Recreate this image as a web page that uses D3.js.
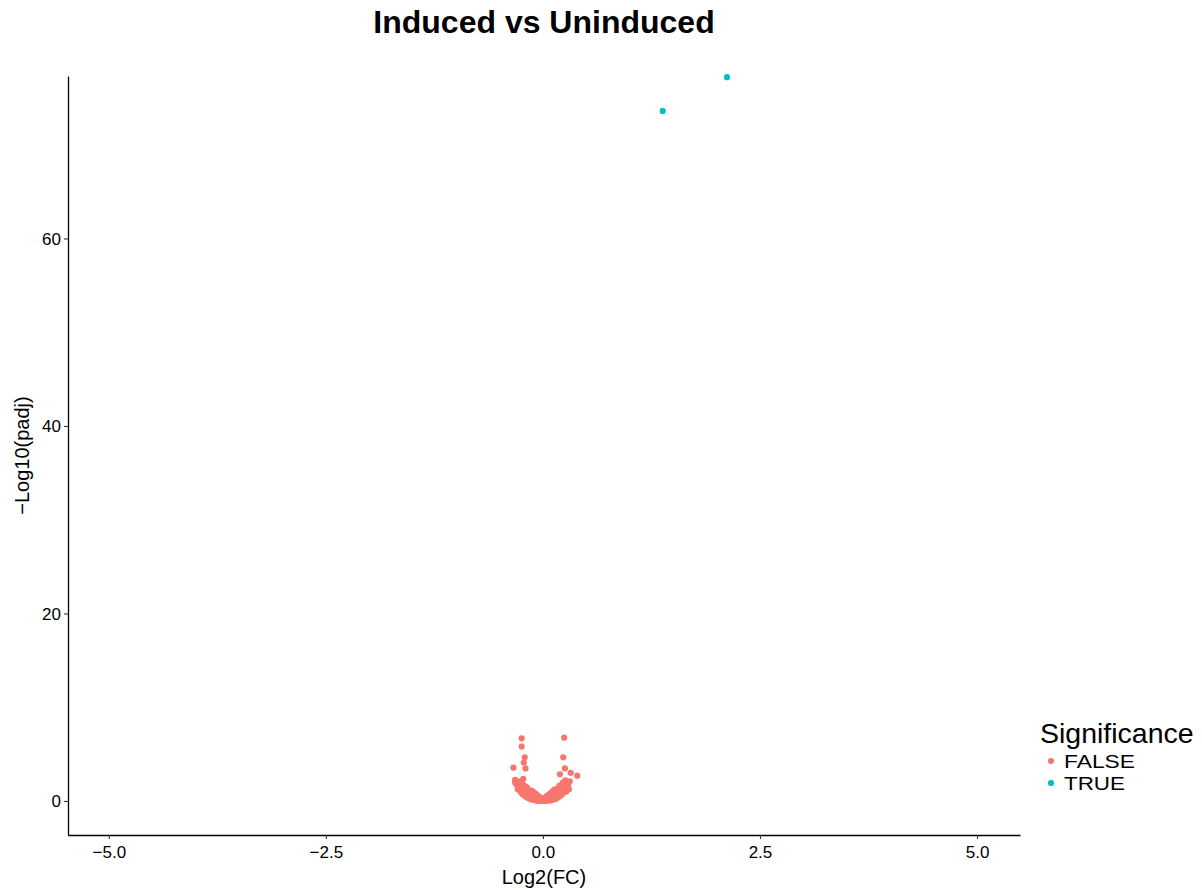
<!DOCTYPE html>
<html><head><meta charset="utf-8">
<script src="https://cdn.jsdelivr.net/npm/d3@7"></script>
<style>body{margin:0;background:#fff;} svg{display:block;font-family:"Liberation Sans",Arial,Helvetica,sans-serif;}</style>
</head><body>
<svg id="c" width="1202" height="890"></svg>
<script>
const title = "Induced vs Uninduced";
const xLabel = "Log2(FC)";
const yLabel = "\u2212Log10(padj)";
const xTicks = [-5, -2.5, 0, 2.5, 5];
const yTicks = [0, 20, 40, 60];
const legendTitle = "Significance";
const groups = ["FALSE", "TRUE"];
const colors = ["#F8766D", "#00BFC4"];
// significant genes [log2FC, -log10 padj]
const trueX = [1.38, 2.12];
const trueY = [73.6, 77.2];
// non-significant genes
const falseX = [-0.245, 0.245, -0.245, -0.21, 0.234, -0.22, -0.34, -0.20, 0.253, 0.32, 0.395, 0.196, -0.32, -0.227,
  -0.32, -0.30, -0.28, -0.26, -0.24, -0.27, -0.25, -0.22, -0.20, -0.22, -0.19, -0.17, -0.15, -0.13, -0.11, -0.09, -0.07, -0.05, -0.03, -0.01,
  -0.29, -0.26, -0.23, -0.21, -0.18, -0.16, -0.14, -0.12, -0.10, -0.08, -0.06, -0.04, -0.02,
  -0.24, -0.21, -0.19, -0.17, -0.15, -0.13, -0.11, -0.09, -0.07,
  0.01, 0.03, 0.05, 0.07, 0.09, 0.11, 0.13, 0.15, 0.17, 0.19, 0.21, 0.23, 0.25, 0.27, 0.29, 0.31,
  0.02, 0.04, 0.06, 0.08, 0.10, 0.12, 0.14, 0.16, 0.18, 0.20, 0.22, 0.24, 0.26, 0.28, 0.30,
  0.08, 0.10, 0.12, 0.14, 0.16, 0.18, 0.20, 0.22, 0.25, 0.27, 0.24, 0.21,
  -0.01, 0.01, -0.03, 0.03, -0.05, 0.05, -0.07, 0.07, -0.09, 0.09, -0.11, 0.11, -0.13, 0.13,
  -0.28, -0.25, -0.23, -0.20, -0.18, -0.16, 0.17, 0.19, 0.23, 0.26, 0.29];
const falseY = [6.68, 6.75, 5.8, 4.66, 4.66, 4.1, 3.55, 3.47, 3.47, 3.0, 2.7, 2.85, 2.24, 2.35,
  1.95, 1.7, 1.9, 2.1, 1.85, 1.4, 1.2, 1.5, 1.2, 0.95, 0.8, 0.65, 0.5, 0.4, 0.3, 0.22, 0.15, 0.08, 0.03, 0.01,
  1.25, 1.0, 0.85, 0.7, 0.55, 0.42, 0.32, 0.24, 0.17, 0.1, 0.06, 0.03, 0.01,
  0.75, 0.55, 0.42, 0.32, 0.24, 0.17, 0.12, 0.08, 0.05,
  0.01, 0.03, 0.07, 0.12, 0.18, 0.26, 0.36, 0.48, 0.62, 0.8, 1.0, 1.25, 1.5, 1.75, 1.95, 2.1,
  0.02, 0.04, 0.08, 0.13, 0.2, 0.28, 0.4, 0.55, 0.72, 0.92, 1.15, 1.4, 1.65, 1.5, 1.25,
  0.05, 0.1, 0.15, 0.22, 0.3, 0.42, 0.55, 0.7, 0.95, 1.0, 2.0, 1.7,
  0.25, 0.3, 0.35, 0.4, 0.5, 0.55, 0.65, 0.7, 0.8, 0.85, 0.95, 1.0, 1.1, 1.2,
  1.3, 1.6, 1.75, 1.55, 1.4, 1.05, 1.35, 1.6, 1.95, 2.2, 1.7];

const svg = d3.select("#c");
const L = 68, R = 1020, T = 76, B = 835;
const x = d3.scaleLinear().domain([-5.47, 5.495]).range([L, R]);
const y = d3.scaleLinear().domain([-3.63, 77.33]).range([B, T]);

const pts = falseX.map((v, i) => ({x: v, y: falseY[i], g: 0}))
  .concat(trueX.map((v, i) => ({x: v, y: trueY[i], g: 1})));
svg.append("g").selectAll("circle").data(pts).join("circle")
  .attr("cx", d => x(d.x)).attr("cy", d => y(d.y)).attr("r", 3.1)
  .attr("fill", d => colors[d.g]);

const xa = svg.append("g").attr("transform", `translate(0,${B})`)
  .call(d3.axisBottom(x).tickValues(xTicks).tickFormat(d3.format(".1f")).tickSize(4).tickSizeOuter(0));
const ya = svg.append("g").attr("transform", `translate(${L},0)`)
  .call(d3.axisLeft(y).tickValues(yTicks).tickSize(4).tickSizeOuter(0));
[xa, ya].forEach(a => {
  a.select(".domain").attr("stroke", "#000").attr("stroke-width", 1.3);
  a.selectAll(".tick line").attr("stroke", "#333").attr("stroke-width", 1.1);
  a.selectAll(".tick text").attr("fill", "#000").attr("font-size", 17)
    .attr("font-family", "'Liberation Sans',Arial,sans-serif")
    .text(function(d){ return (d3.select(this).text()).replace("-", "\u2212"); });
});
xa.selectAll(".tick text").attr("dy", "0.95em");
ya.selectAll(".tick text").attr("dy", "0.35em").attr("x", -7);

svg.append("text").attr("x", 544).attr("y", 33).attr("text-anchor", "middle")
  .attr("font-size", 32).attr("font-weight", "bold").text(title);
svg.append("text").attr("x", 544).attr("y", 884).attr("text-anchor", "middle")
  .attr("font-size", 20).text(xLabel);
svg.append("text").attr("transform", `translate(29,${(T + B) / 2}) rotate(-90)`)
  .attr("text-anchor", "middle").attr("font-size", 20).text(yLabel);

const lg = svg.append("g");
lg.append("text").attr("x", 1040).attr("y", 743).attr("font-size", 28.5).text(legendTitle);
groups.forEach((g, i) => {
  lg.append("circle").attr("cx", 1051).attr("cy", 761 + i * 22).attr("r", 3.1).attr("fill", colors[i]);
  lg.append("text").attr("x", 1064).attr("y", 768 + i * 22).attr("font-size", 19)
    .attr("textLength", g === "FALSE" ? 71 : 61).attr("lengthAdjust", "spacingAndGlyphs").text(g);
});
</script>
</body></html>
